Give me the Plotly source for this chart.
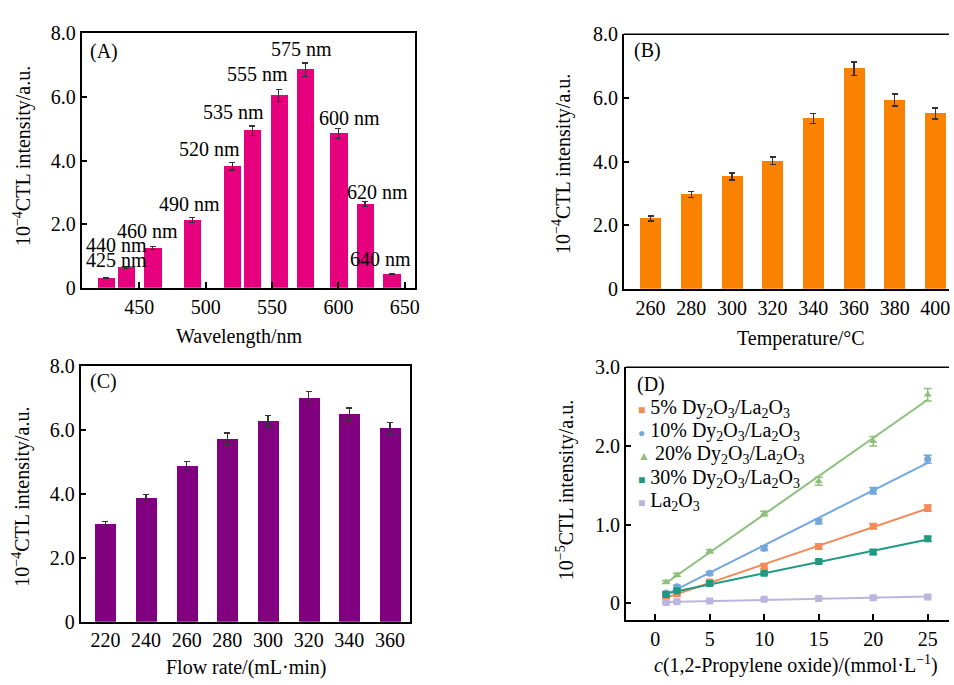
import numpy as np
import plotly.graph_objects as go

# ---------------- data ----------------
# Panel A: wavelength scan
wavelengths = [425, 440, 460, 490, 520, 535, 555, 575, 600, 620, 640]
intensity_a = [0.31, 0.64, 1.25, 2.13, 3.82, 4.94, 6.04, 6.86, 4.85, 2.64, 0.44]
error_a = [0.02, 0.04, 0.05, 0.08, 0.12, 0.15, 0.19, 0.21, 0.15, 0.08, 0.02]

# Panel B: temperature
temperatures = [260, 280, 300, 320, 340, 360, 380, 400]
intensity_b = [2.21, 2.96, 3.53, 4.02, 5.35, 6.92, 5.93, 5.51]
error_b = [0.08, 0.10, 0.11, 0.12, 0.16, 0.21, 0.19, 0.17]

# Panel C: flow rate
flow_rates = [220, 240, 260, 280, 300, 320, 340, 360]
intensity_c = [3.05, 3.87, 4.86, 5.73, 6.28, 6.99, 6.49, 6.05]
error_c = [0.09, 0.11, 0.15, 0.18, 0.18, 0.22, 0.20, 0.18]

# Panel D: calibration
conc = [1, 2, 5, 10, 15, 20, 25]
d_names = ["5% Dy<sub>2</sub>O<sub>3</sub>/La<sub>2</sub>O<sub>3</sub>",
           "10% Dy<sub>2</sub>O<sub>3</sub>/La<sub>2</sub>O<sub>3</sub>",
           "20% Dy<sub>2</sub>O<sub>3</sub>/La<sub>2</sub>O<sub>3</sub>",
           "30% Dy<sub>2</sub>O<sub>3</sub>/La<sub>2</sub>O<sub>3</sub>",
           "La<sub>2</sub>O<sub>3</sub>"]
d_5 = [0.08, 0.12, 0.27, 0.47, 0.72, 0.98, 1.21]
d_10 = [0.13, 0.21, 0.38, 0.70, 1.04, 1.43, 1.83]
d_20 = [0.27, 0.36, 0.66, 1.14, 1.55, 2.06, 2.65]
d_30 = [0.11, 0.16, 0.25, 0.38, 0.53, 0.65, 0.82]
d_la = [0.01, 0.02, 0.03, 0.05, 0.06, 0.07, 0.08]
e_5 = [0.02, 0.02, 0.02, 0.03, 0.03, 0.03, 0.04]
e_10 = [0.02, 0.02, 0.02, 0.03, 0.03, 0.04, 0.05]
e_20 = [0.02, 0.02, 0.02, 0.03, 0.05, 0.06, 0.08]
e_30 = [0.02, 0.02, 0.02, 0.02, 0.02, 0.03, 0.03]
e_la = [0.01, 0.01, 0.01, 0.01, 0.01, 0.01, 0.02]

# ---------------- styles ----------------
FONT = "Liberation Serif, Times New Roman, serif"
FS = 20
W, H = 954, 685
COL_A = "#e6007e"
COL_B = "#fb8200"
COL_C = "#800080"
D_COLORS = ["#f38a58", "#74a7dc", "#8cc07b", "#1f9a80", "#bcb5dd"]
D_SYMBOLS = ["square", "circle", "triangle-up", "square", "square"]
D_GLYPHS = ["■", "●", "▲", "■", "■"]

# label positions for panel A (data coords)
label_pos_a = [(432.5, 0.86), (432.7, 1.36), (455.9, 1.77), (488.0, 2.62), (503.0, 4.36),
               (521.0, 5.54), (539.0, 6.73), (572.0, 7.49), (608.6, 5.33), (629.6, 3.02),
               (631.8, 0.89)]


def px_x(p):
    return p / W


def px_y(p):
    return 1 - p / H


fig = go.Figure()

err_style = dict(type="data", color="#333333", thickness=1.3, width=3)

fig.add_trace(go.Bar(x=wavelengths, y=intensity_a, width=13, marker_color=COL_A,
                     marker_line_width=0, error_y=dict(array=error_a, **err_style),
                     xaxis="x", yaxis="y", showlegend=False))
fig.add_trace(go.Bar(x=temperatures, y=intensity_b, width=10.3, marker_color=COL_B,
                     marker_line_width=0, error_y=dict(array=error_b, **err_style),
                     xaxis="x2", yaxis="y2", showlegend=False))
fig.add_trace(go.Bar(x=flow_rates, y=intensity_c, width=10.3, marker_color=COL_C,
                     marker_line_width=0, error_y=dict(array=error_c, **err_style),
                     xaxis="x3", yaxis="y3", showlegend=False))

d_series = [d_5, d_10, d_20, d_30, d_la]
d_errors = [e_5, e_10, e_20, e_30, e_la]
cx = np.array(conc, dtype=float)
for vals, name, col in zip(d_series, d_names, D_COLORS):
    k, b = np.polyfit(cx, np.array(vals), 1)
    fig.add_trace(go.Scatter(x=conc, y=list(k * cx + b), mode="lines",
                             line=dict(color=col, width=2), xaxis="x4", yaxis="y4",
                             showlegend=False, hoverinfo="skip"))
for vals, errs, name, col, sym in zip(d_series, d_errors, d_names, D_COLORS, D_SYMBOLS):
    fig.add_trace(go.Scatter(x=conc, y=vals, mode="markers", name=name,
                             marker=dict(color=col, symbol=sym, size=7),
                             error_y=dict(type="data", array=errs, color=col, thickness=1.5, width=4),
                             xaxis="x4", yaxis="y4", showlegend=False))

axis_common = dict(showline=True, linecolor="black", linewidth=1.5, mirror=True,
                   showgrid=False, zeroline=False, ticks="inside", ticklen=6,
                   tickcolor="black", tickwidth=1.5,
                   tickfont=dict(family=FONT, size=FS, color="black"))

y_bar = dict(axis_common, range=[0, 8], tickvals=[0, 2, 4, 6, 8],
             ticktext=["0", "2.0", "4.0", "6.0", "8.0"])

fig.update_layout(
    width=W, height=H, margin=dict(l=0, r=0, t=0, b=0),
    paper_bgcolor="white", plot_bgcolor="white",
    font=dict(family=FONT, size=FS, color="black"),
    bargap=0, showlegend=False,
    xaxis=dict(axis_common, domain=[px_x(82), px_x(417)], range=[406.5, 657.5],
               tickvals=[450, 500, 550, 600, 650], anchor="y"),
    yaxis=dict(y_bar, domain=[px_y(286), px_y(23)], anchor="x"),
    xaxis2=dict(axis_common, domain=[px_x(627), 1.0], range=[246.8, 406.7],
                tickvals=temperatures, ticks="", anchor="y2", mirror=False),
    yaxis2=dict(y_bar, domain=[px_y(287), px_y(24)], anchor="x2", mirror=False),
    xaxis3=dict(axis_common, domain=[px_x(81), px_x(412)], range=[207.8, 369.8],
                tickvals=flow_rates, ticks="", anchor="y3"),
    yaxis3=dict(y_bar, domain=[px_y(631), px_y(367)], anchor="x3"),
    xaxis4=dict(axis_common, domain=[px_x(629), 1.0], range=[-2.7, 26.95],
                tickvals=[0, 5, 10, 15, 20, 25], anchor="y4", mirror=False),
    yaxis4=dict(axis_common, domain=[px_y(629), px_y(368)], range=[-0.21, 3.0],
                tickvals=[0, 1, 2, 3], ticktext=["0", "1.0", "2.0", "3.0"],
                anchor="x4", mirror=False),
)

# top borders for B and D (frames cut off on the right)
fig.add_shape(type="line", xref="x2 domain", yref="y2 domain", x0=0, x1=1, y0=1, y1=1,
              line=dict(color="black", width=1.5))
fig.add_shape(type="line", xref="x4 domain", yref="y4 domain", x0=0, x1=1, y0=1, y1=1,
              line=dict(color="black", width=1.5))

ann = []
# bar labels for panel A
for wl, (lx, ly) in zip(wavelengths, label_pos_a):
    ann.append(dict(x=lx, y=ly, xref="x", yref="y", text=f"{wl} nm", showarrow=False,
                    font=dict(size=FS)))

# panel letters
for txt, x, y in [("(A)", 88, 42), ("(B)", 635, 41), ("(C)", 88, 383), ("(D)", 638, 386)]:
    ann.append(dict(x=px_x(x), y=px_y(y), xref="paper", yref="paper", text=txt,
                    showarrow=False, xanchor="left", yanchor="middle", font=dict(size=FS)))

# legend for panel D
legend_rows = [411, 434, 458, 483, 507]
for name, col, glyph, ry in zip(d_names, D_COLORS, D_GLYPHS, legend_rows):
    ann.append(dict(x=px_x(639), y=px_y(ry), xref="paper", yref="paper",
                    text=f'<span style="color:{col};font-size:12px">{glyph}</span> {name}',
                    showarrow=False, xanchor="left", yanchor="middle", font=dict(size=FS)))

ytitle4 = "10<sup>−4</sup>CTL intensity/a.u."
for txt, x, y, ang in [
    (ytitle4, 22, 150, -90),
    ("Wavelength/nm", 241, 336, 0),
    (ytitle4, 565, 158, -90),
    ("Temperature/°C", 805, 338, 0),
    (ytitle4, 22, 502, -90),
    ("Flow rate/(mL·min)", 248, 678, 0),
    ("10<sup>−5</sup>CTL intensity/a.u.", 568, 495, -90),
    ("<i>c</i>(1,2-Propylene oxide)/(mmol·L<sup>−1</sup>)", 800, 675, 0),
]:
    ann.append(dict(x=px_x(x), y=px_y(y), xref="paper", yref="paper", text=txt,
                    showarrow=False, xanchor="center", yanchor="middle", textangle=ang,
                    font=dict(size=FS)))

fig.update_layout(annotations=ann)
fig.write_html("out.html")
